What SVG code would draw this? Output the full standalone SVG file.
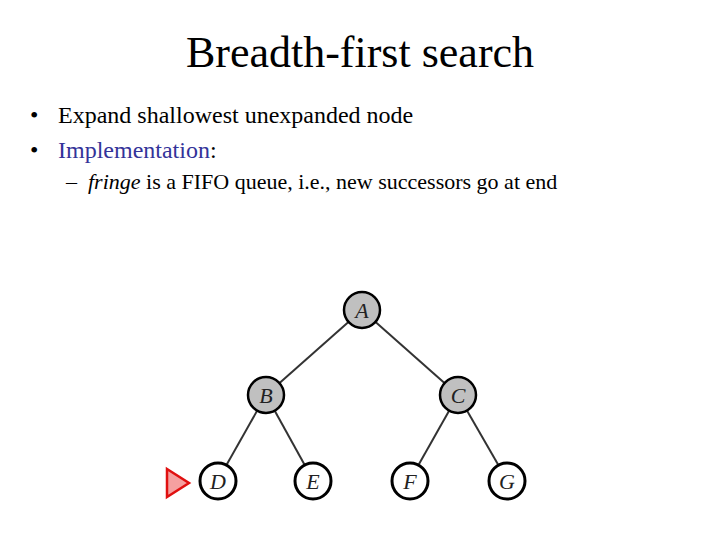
<svg xmlns="http://www.w3.org/2000/svg" width="720" height="540" viewBox="0 0 720 540">
<style>
.t{font-family:"Liberation Serif",serif;fill:#000}
.n circle{stroke:#000;stroke-width:2.5}
.g circle{fill:#c0c0c0}
.w circle{fill:#fff;stroke-width:3}
.n text{font-family:"Liberation Serif",serif;font-style:italic;font-size:22px;text-anchor:middle;fill:#222}
.e line{stroke:#333;stroke-width:2}
</style>
<rect width="720" height="540" fill="#fff"/>
<text class="t" x="360" y="67" font-size="44" text-anchor="middle">Breadth-first search</text>
<text class="t" x="30" y="123" font-size="24">•</text>
<text class="t" x="58" y="123" font-size="24">Expand shallowest unexpanded node</text>
<text class="t" x="30" y="158" font-size="24">•</text>
<text class="t" x="58" y="158" font-size="24" style="fill:#333399">Implementation<tspan style="fill:#000">:</tspan></text>
<text class="t" x="66" y="189" font-size="22">–</text>
<text class="t" x="88" y="189" font-size="22"><tspan font-style="italic">fringe</tspan> is a FIFO queue, i.e., new successors go at end</text>
<g id="edges" class="e">
<line x1="362" y1="310" x2="266" y2="395"/>
<line x1="362" y1="310" x2="458" y2="395"/>
<line x1="266" y1="395" x2="218" y2="480"/>
<line x1="266" y1="395" x2="313" y2="480"/>
<line x1="458" y1="395" x2="410" y2="480"/>
<line x1="458" y1="395" x2="507" y2="480"/>
</g>
<g id="A" class="n g"><circle cx="362" cy="310" r="18"/><text x="362" y="318">A</text></g>
<g id="B" class="n g"><circle cx="266" cy="395" r="18"/><text x="266" y="403">B</text></g>
<g id="C" class="n g"><circle cx="458" cy="395" r="18"/><text x="458" y="403">C</text></g>
<g id="D" class="n w"><circle cx="218" cy="481" r="18"/><text x="218" y="489">D</text></g>
<g id="E" class="n w"><circle cx="313" cy="481" r="18"/><text x="313" y="489">E</text></g>
<g id="F" class="n w"><circle cx="410" cy="481" r="18"/><text x="410" y="489">F</text></g>
<g id="G" class="n w"><circle cx="507" cy="481" r="18"/><text x="507" y="489">G</text></g>
<g id="marker"><polygon points="167,469 189,483 167,497" fill="#f5a0a0" stroke="#e01010" stroke-width="2.5"/></g>
</svg>
